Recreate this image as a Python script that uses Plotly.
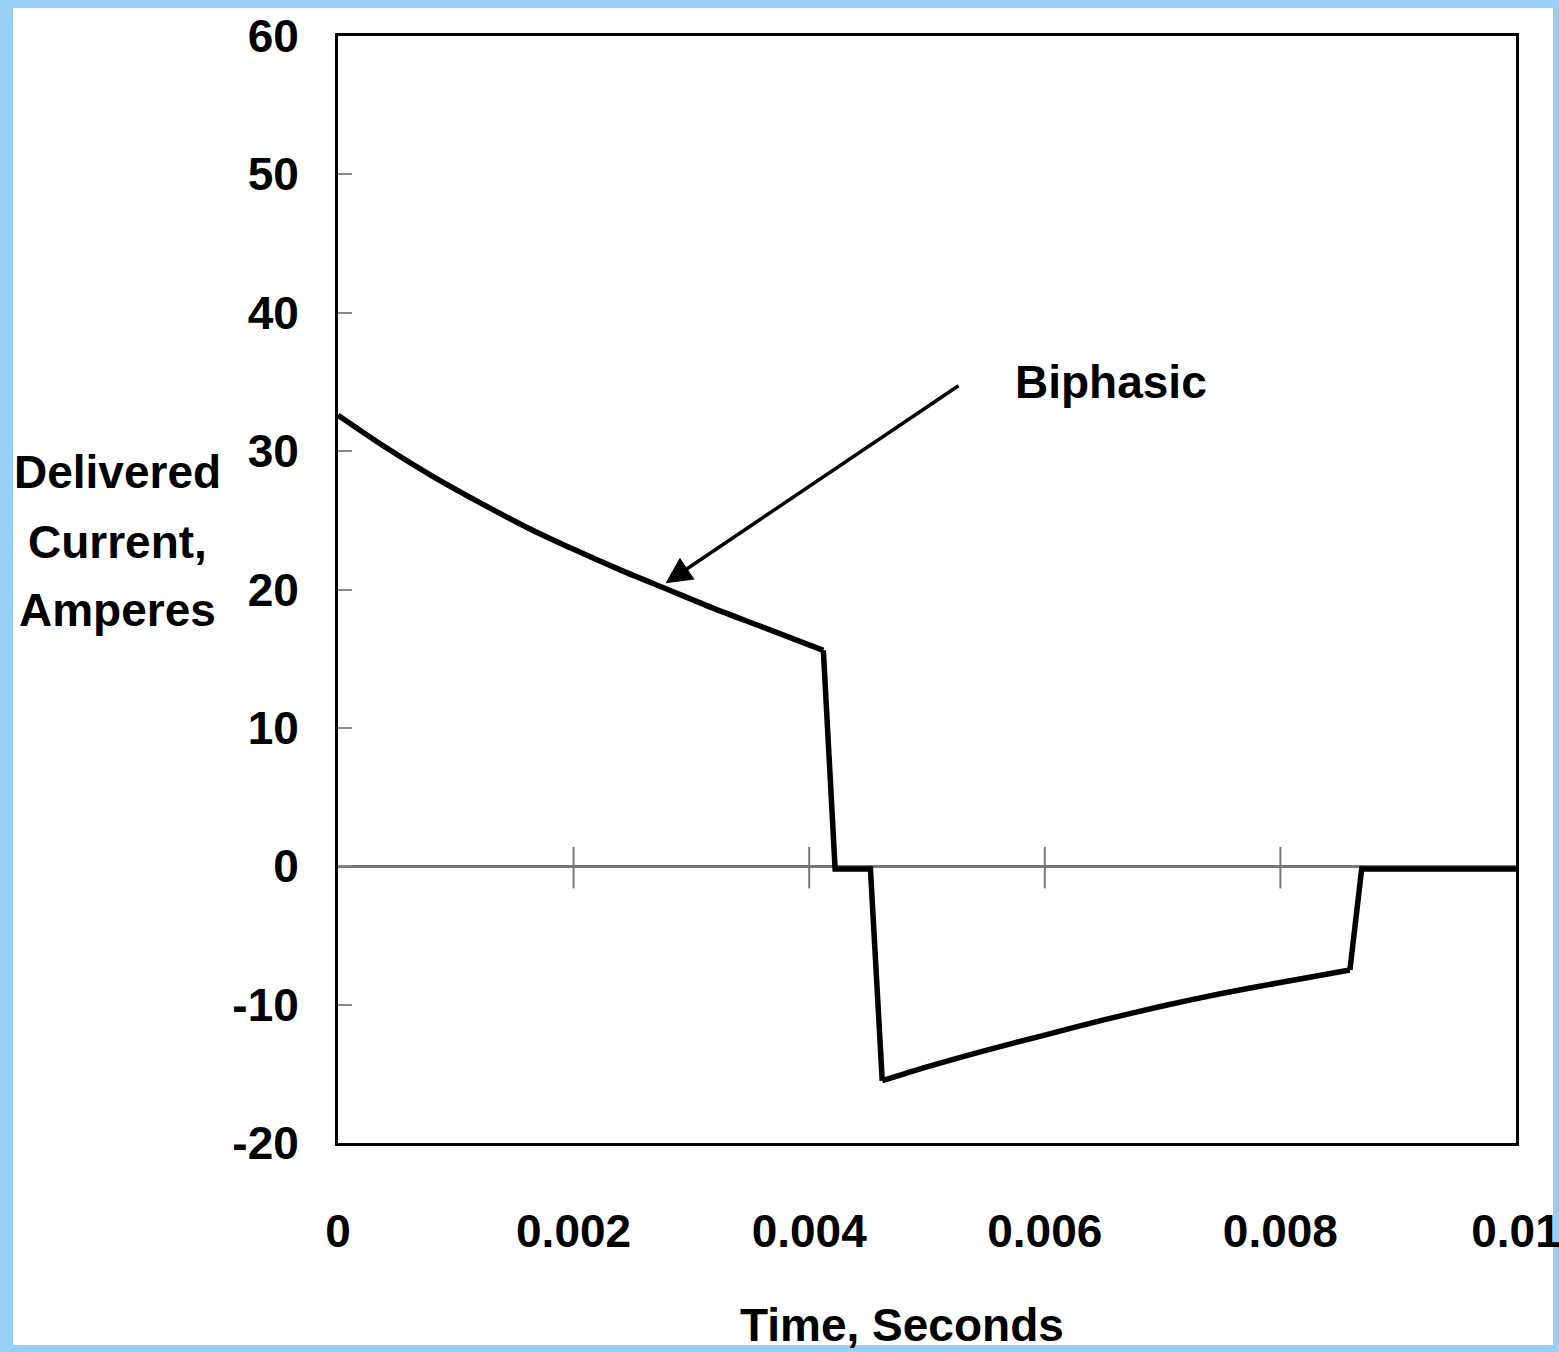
import plotly.graph_objects as go

# ---- data ----
time_s = [0.0, 0.0004, 0.0008, 0.0012, 0.0016, 0.0020, 0.0024, 0.0028, 0.0032, 0.0036, 0.00412,
          0.00422, 0.00452, 0.00462, 0.0050, 0.0055, 0.0060, 0.0065, 0.0070, 0.0075, 0.0080, 0.00859,
          0.00869, 0.0100]
current_a = [32.6, 30.3, 28.2, 26.3, 24.5, 22.9, 21.4, 20.0, 18.6, 17.3, 15.6,
             -0.2, -0.2, -15.5, -14.5, -13.3, -12.2, -11.1, -10.1, -9.2, -8.4, -7.5,
             -0.2, -0.2]

x_tickvals = [0, 0.002, 0.004, 0.006, 0.008, 0.01]
x_ticktext = ["0", "0.002", "0.004", "0.006", "0.008", "0.01"]
y_tickvals = [60, 50, 40, 30, 20, 10, 0, -10, -20]
y_ticktext = ["60", "50", "40", "30", "20", "10", "0", "-10", "-20"]

y_title_lines = ["Delivered", "Current,", "Amperes"]
x_title = "Time, Seconds"
series_label = "Biphasic"

FONT = "Liberation Sans, Arial, sans-serif"
FS = 46
LINE = dict(color="black", width=5.5)

fig = go.Figure()
# curved decay pieces (smooth) and the straight transitions between them
segments = [(0, 11, "spline"), (10, 14, "linear"), (13, 22, "spline"), (21, 24, "linear")]
for i0, i1, shape in segments:
    fig.add_trace(go.Scatter(x=time_s[i0:i1], y=current_a[i0:i1], mode="lines",
                             line=dict(LINE, shape=shape, smoothing=0.8) if shape == "spline"
                             else dict(LINE, shape=shape),
                             showlegend=False, hoverinfo="skip"))

# tick marks drawn on the zero line (crossing it)
for t in x_tickvals[1:-1]:
    fig.add_shape(type="line", xref="x", yref="y", x0=t, x1=t, y0=-1.6, y1=1.4,
                  line=dict(color="#777777", width=2), layer="below")

# page: light blue frame with white interior
L, R, T, B = 338, 43, 36, 209
W, H = 1559, 1352
pw, ph = W - L - R, H - T - B
def px2paper_x(px):
    return (px - L) / pw
def px2paper_y(py):
    return (H - B - py) / ph

fig.add_shape(type="rect", xref="paper", yref="paper",
              x0=px2paper_x(13), x1=px2paper_x(1553),
              y0=px2paper_y(1345), y1=px2paper_y(8),
              fillcolor="white", line=dict(width=0), layer="below")

fig.update_xaxes(range=[0, 0.01], tickvals=x_tickvals,
                 ticktext=["<b>%s</b>" % s for s in x_ticktext],
                 showline=True, linecolor="black", linewidth=3, mirror=True,
                 ticks="", showgrid=False, zeroline=False, automargin=False,
                 ticklabelstandoff=46, ticklabeloverflow="allow",
                 tickfont=dict(family=FONT, size=FS, color="black"))
fig.update_yaxes(range=[-20, 60], tickvals=y_tickvals,
                 ticktext=["<b>%s</b>" % s for s in y_ticktext],
                 showline=True, linecolor="black", linewidth=3, mirror=True,
                 ticks="inside", ticklen=14, tickwidth=2, tickcolor="#888888",
                 showgrid=False, zeroline=True, zerolinecolor="#777777", zerolinewidth=2.5,
                 ticklabelstandoff=27, automargin=False,
                 tickfont=dict(family=FONT, size=FS, color="black"))

annotations = []
for line_txt, py in zip(y_title_lines, [472, 542, 610]):
    annotations.append(dict(text="<b>%s</b>" % line_txt, xref="paper", yref="paper",
                            x=px2paper_x(118), y=px2paper_y(py), showarrow=False,
                            xanchor="center", yanchor="middle",
                            font=dict(family=FONT, size=FS, color="black")))
annotations.append(dict(text="<b>%s</b>" % x_title, xref="paper", yref="paper",
                        x=px2paper_x(902), y=px2paper_y(1325), showarrow=False,
                        xanchor="center", yanchor="middle",
                        font=dict(family=FONT, size=FS, color="black")))
annotations.append(dict(text="<b>%s</b>" % series_label, xref="x", yref="y",
                        x=0.00656, y=35.0, showarrow=False,
                        xanchor="center", yanchor="middle",
                        font=dict(family=FONT, size=FS, color="black")))
annotations.append(dict(text="", xref="x", yref="y", x=0.00278, y=20.45,
                        axref="x", ayref="y", ax=0.00528, ay=34.8,
                        showarrow=True, arrowhead=2, arrowsize=1.5, arrowwidth=3.5,
                        arrowcolor="black"))

fig.update_layout(width=W, height=H, margin=dict(l=L, r=R, t=T, b=B),
                  paper_bgcolor="#98cff5", plot_bgcolor="white",
                  annotations=annotations, showlegend=False)

fig.write_html("out.html")
